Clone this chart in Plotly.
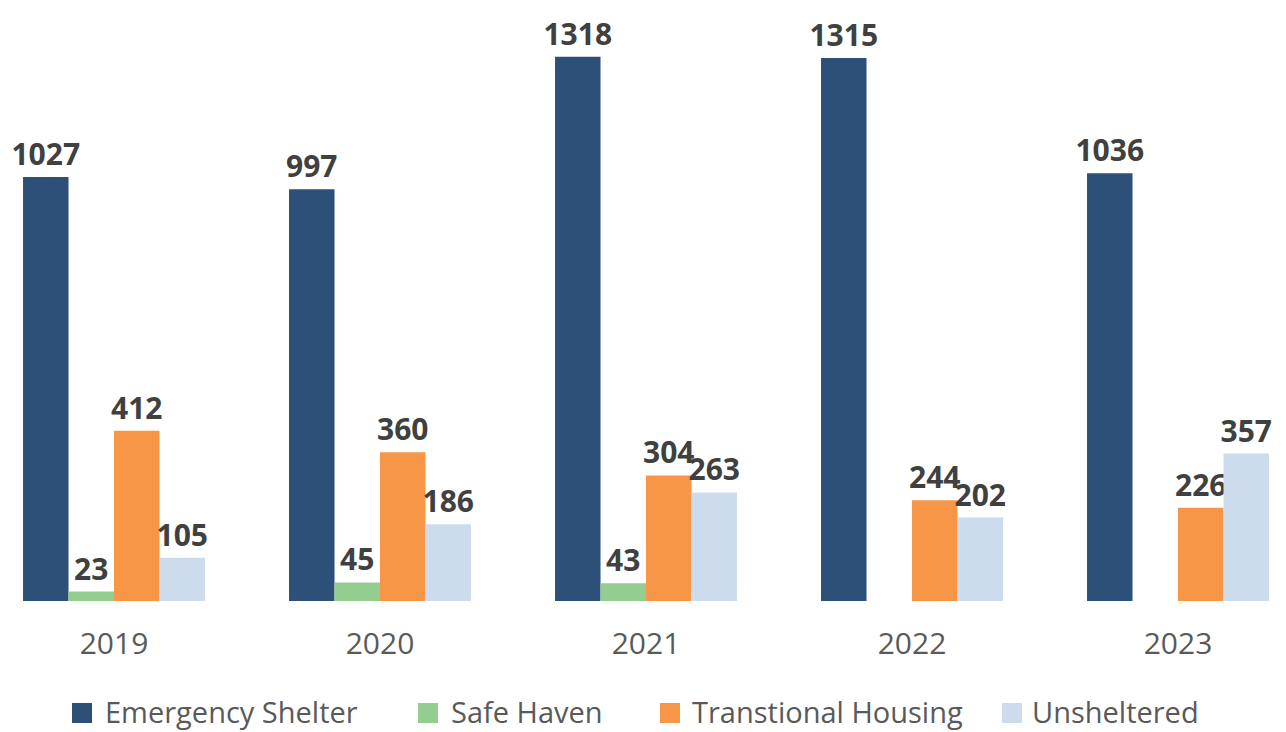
import plotly.graph_objects as go

years = ["2019", "2020", "2021", "2022", "2023"]
emergency_shelter = [1027, 997, 1318, 1315, 1036]
safe_haven = [23, 45, 43, None, None]
transitional_housing = [412, 360, 304, 244, 226]
unsheltered = [105, 186, 263, 202, 357]

series_names = ["Emergency Shelter", "Safe Haven", "Transtional Housing", "Unsheltered"]
series_values = [emergency_shelter, safe_haven, transitional_housing, unsheltered]
colors = ["#2C5078", "#93CD8F", "#F79646", "#CCDCEC"]

# page body has 8px margin; figure pixels = page pixels - 8
W, H = 1278, 724
T, B = 12, 131
plot_h = H - T - B

fig = go.Figure()
for name, vals, c in zip(series_names, series_values, colors):
    fig.add_trace(go.Bar(
        x=years, y=vals, name=name, marker_color=c, marker_line_width=0,
        text=[("" if v is None else str(v)) for v in vals],
        textposition="outside", cliponaxis=False, constraintext="none",
        textfont=dict(family="Open Sans", size=30, color="#404040", weight="bold"),
        showlegend=False,
    ))

# custom legend (page pixel positions)
legend_items = [(72, 103), (418, 449), (660, 690), (1002, 1030)]
ly = 711 - 8
for (sx, tx), name, c in zip(legend_items, series_names, colors):
    sx -= 8
    tx -= 8
    fig.add_shape(type="rect", xref="paper", yref="paper",
                  x0=sx / W, x1=(sx + 20) / W,
                  y0=(H - B - (ly + 12)) / plot_h, y1=(H - B - (ly - 8)) / plot_h,
                  fillcolor=c, line_width=0)
    fig.add_annotation(x=tx / W, y=(H - B - ly) / plot_h, xref="paper", yref="paper",
                       text=name, showarrow=False, xanchor="left", yanchor="middle",
                       font=dict(family="Open Sans", size=29, color="#595959"))

fig.update_layout(
    width=W, height=H,
    margin=dict(l=0, r=0, t=T, b=B),
    barmode="group", bargap=0.316, bargroupgap=0,
    plot_bgcolor="white", paper_bgcolor="white",
    xaxis=dict(type="category", range=[-0.3985, 4.406], showgrid=False, showline=False,
               zeroline=False, ticks="outside", ticklen=16, tickcolor="rgba(0,0,0,0)",
               tickfont=dict(family="Open Sans", size=30, color="#595959")),
    yaxis=dict(range=[0, 1407], visible=False),
)

fig.write_html("out.html")
